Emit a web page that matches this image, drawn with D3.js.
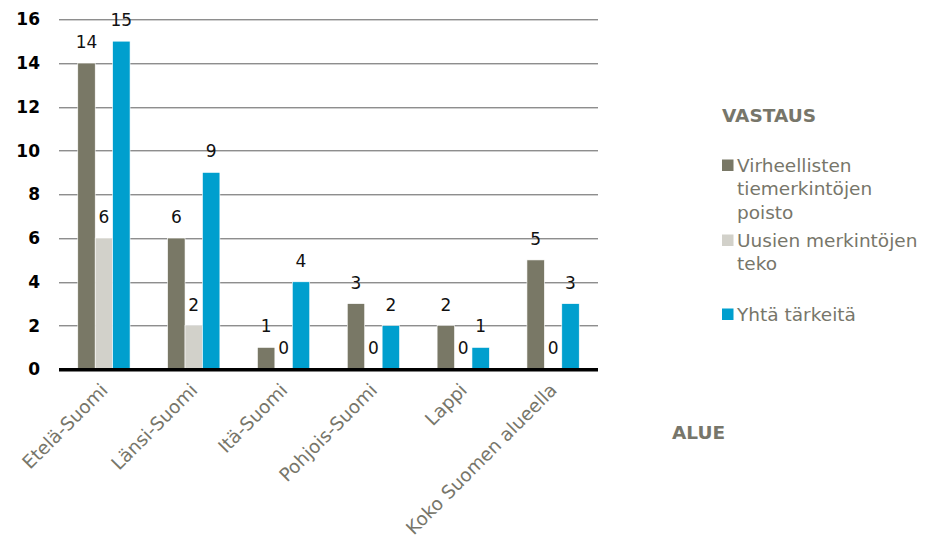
<!DOCTYPE html>
<html>
<head>
<meta charset="utf-8">
<script src="https://cdn.jsdelivr.net/npm/d3@7"></script>
<style>
	body { margin: 0; background: #fff; }
	svg { display: block; }
	text { font-family: "DejaVu Sans", Verdana, sans-serif; }
</style>
</head>
<body>
<div id="chartDiv"></div>
<script>
// data
var categories = ["Etelä-Suomi", "Länsi-Suomi", "Itä-Suomi", "Pohjois-Suomi", "Lappi", "Koko Suomen alueella"];
var seriesNames = ["Virheellisten tiemerkintöjen poisto", "Uusien merkintöjen teko", "Yhtä tärkeitä"];
var poistoValues = [14, 6, 1, 3, 2, 5];
var uudetValues = [6, 2, 0, 0, 0, 0];
var yhtaValues = [15, 9, 4, 2, 1, 3];
var yTicks = [0, 2, 4, 6, 8, 10, 12, 14, 16];
var legendLines = [["Virheellisten", "tiemerkintöjen", "poisto"], ["Uusien merkintöjen", "teko"], ["Yhtä tärkeitä"]];
var legendTitle = "VASTAUS";
var axisTitle = "ALUE";

;(function() {

	var width = 926;
	var height = 545;
	var margin = { top: 19.3, left: 59, right: 328, bottom: 175.7 };
	var colors = ["#797866", "#d2d1ca", "#009fce"];
	var grey = "#77766a";
	var labelSize = "18.5px";

	var chartWidth = width - margin.left - margin.right;
	var chartHeight = height - margin.top - margin.bottom;

	var allSeries = [poistoValues, uudetValues, yhtaValues];

	var svg = d3.select("#chartDiv").append("svg")
		.attr("width", width)
		.attr("height", height);

	var plot = svg.append("g")
		.attr("transform", "translate(" + margin.left + "," + margin.top + ")");

	var xScale = d3.scaleBand()
		.domain(categories)
		.range([0, chartWidth])
		.padding(0);

	var bw = xScale.bandwidth();
	var innerScale = d3.scaleBand()
		.domain(d3.range(allSeries.length))
		.range([bw * 0.209, bw * 0.791])
		.padding(0);

	var yScale = d3.scaleLinear()
		.domain([0, 16])
		.range([chartHeight, 0]);

	// gridlines
	plot.append("g").selectAll("line")
		.data(yTicks.filter(function(t) { return t > 0; }))
		.enter().append("line")
			.attr("x1", 0)
			.attr("x2", chartWidth)
			.attr("y1", function(d) { return Math.round(yScale(d)) + 0.5; })
			.attr("y2", function(d) { return Math.round(yScale(d)) + 0.5; })
			.attr("stroke", "#5e5e5e")
			.attr("stroke-width", 1);

	// y axis labels
	var yAxis = d3.axisLeft(yScale)
		.tickValues(yTicks)
		.tickSize(0)
		.tickPadding(19);

	var yAxisG = plot.append("g").call(yAxis);
	yAxisG.select(".domain").remove();
	yAxisG.selectAll("text")
		.attr("font-family", "'DejaVu Sans', Verdana, sans-serif")
		.attr("font-size", "17px")
		.attr("font-weight", "bold")
		.attr("fill", "#000");

	// bars
	var groups = plot.selectAll(".grp")
		.data(categories)
		.enter().append("g")
			.attr("class", "grp")
			.attr("transform", function(d) { return "translate(" + xScale(d) + ",0)"; });

	allSeries.forEach(function(values, si) {
		groups.append("rect")
			.attr("x", innerScale(si))
			.attr("y", function(d, i) { return yScale(values[i]); })
			.attr("width", innerScale.bandwidth())
			.attr("height", function(d, i) { return chartHeight - yScale(values[i]); })
			.attr("fill", colors[si])
			.attr("stroke", "#fff")
			.attr("stroke-width", 0.6);

		groups.append("text")
			.attr("x", innerScale(si) + innerScale.bandwidth() / 2)
			.attr("y", function(d, i) { return yScale(values[i]) - 15; })
			.attr("text-anchor", "middle")
			.attr("font-size", "17px")
			.attr("fill", "#111")
			.text(function(d, i) { return values[i]; });
	});

	// baseline
	plot.append("line")
		.attr("x1", 0)
		.attr("x2", chartWidth)
		.attr("y1", chartHeight + 0.5)
		.attr("y2", chartHeight + 0.5)
		.attr("stroke", "#000")
		.attr("stroke-width", 3.5);

	// category labels
	plot.append("g").selectAll("text")
		.data(categories)
		.enter().append("text")
			.attr("text-anchor", "end")
			.attr("font-size", labelSize)
			.attr("fill", grey)
			.attr("transform", function(d) {
				return "translate(" + (xScale(d) + bw / 2 + 5) + "," + (chartHeight + 22) + ") rotate(-45)";
			})
			.text(function(d) { return d; });

	// legend
	var legend = svg.append("g");

	legend.append("text")
		.attr("x", 722)
		.attr("y", 122)
		.attr("font-size", labelSize)
		.attr("font-weight", "bold")
		.attr("fill", grey)
		.text(legendTitle);

	var itemY = [171.5, 246.5, 320.5];
	legendLines.forEach(function(lines, i) {
		legend.append("rect")
			.attr("x", 722)
			.attr("y", itemY[i] - 12)
			.attr("width", 11.5)
			.attr("height", 11.5)
			.attr("fill", colors[i]);

		var t = legend.append("text")
			.attr("x", 737)
			.attr("y", itemY[i])
			.attr("font-size", labelSize)
			.attr("fill", grey);

		lines.forEach(function(line, j) {
			t.append("tspan")
				.attr("x", 737)
				.attr("dy", j === 0 ? 0 : 23.5)
				.text(line);
		});
	});

	svg.append("text")
		.attr("x", 672)
		.attr("y", 438.5)
		.attr("font-size", labelSize)
		.attr("font-weight", "bold")
		.attr("fill", grey)
		.text(axisTitle);

})();
</script>
</body>
</html>
